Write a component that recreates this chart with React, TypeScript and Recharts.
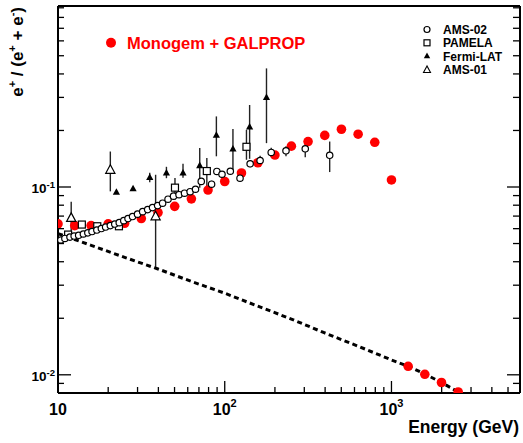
import { ErrorBar, Scatter, ScatterChart, XAxis, YAxis } from "recharts";

// Monogem + GALPROP prediction (red dots)
const monogemE = [10, 12.6, 15.8, 20, 25.1, 31.6, 39.8, 50.1, 63.1, 79.4, 100, 126, 158, 200, 251, 316, 398, 501, 631, 794, 1000, 1259, 1585, 1995, 2512];
const monogemV = [0.0636, 0.0623, 0.0623, 0.0636, 0.0641, 0.0679, 0.0731, 0.0789, 0.0865, 0.0963, 0.107, 0.1187, 0.1346, 0.148, 0.165, 0.1746, 0.1883, 0.203, 0.191, 0.173, 0.109, 0.0111, 0.01006, 0.0091, 0.0081];

// secondary background (dashed line)
const bgE = [10, 15.8, 25.1, 39.8, 63.1, 100, 158, 251, 398, 631, 1000, 1259, 1585, 1995, 2512];
const bgV = [0.0565, 0.0489, 0.0422, 0.0366, 0.0314, 0.0272, 0.0232, 0.0198, 0.0167, 0.0142, 0.012, 0.0111, 0.0101, 0.0091, 0.0081];

// AMS-02
const ams02E = [10.4, 11.0, 11.8, 12.5, 13.3, 14.2, 15.1, 16.0, 17.1, 18.2, 19.3, 20.6, 21.9, 23.3, 24.8, 26.3, 28.0, 30.0, 32.2, 34.5, 36.9, 39.6, 42.4, 45.7, 49.3, 53.2, 57.4, 62.0, 66.8, 72.3, 83.4, 89.7, 96.3, 108, 123.5, 142, 163, 190, 233, 304, 426];
const ams02V = [0.0522, 0.0532, 0.0541, 0.0548, 0.0553, 0.0562, 0.057, 0.0579, 0.059, 0.0601, 0.0612, 0.0623, 0.0635, 0.0646, 0.0662, 0.0679, 0.0696, 0.0717, 0.0739, 0.0758, 0.0777, 0.0796, 0.082, 0.0861, 0.0894, 0.091, 0.0927, 0.0944, 0.0973, 0.1071, 0.1035, 0.121, 0.1169, 0.1213, 0.1114, 0.1329, 0.1384, 0.1527, 0.1559, 0.1597, 0.1475];
const ams02Dn = [0.0006, 0.0006, 0.0006, 0.0006, 0.0006, 0.0007, 0.0007, 0.0007, 0.0008, 0.0008, 0.0008, 0.0008, 0.0009, 0.0009, 0.0009, 0.001, 0.001, 0.001, 0.0011, 0.0012, 0.0012, 0.0013, 0.0014, 0.0015, 0.0016, 0.0017, 0.0019, 0.002, 0.0022, 0.0024, 0.0043, 0.003, 0.003, 0.003, 0.0041, 0.0055, 0.0079, 0.0088, 0.0102, 0.0158, 0.0274];
const ams02Up = [0.0006, 0.0006, 0.0006, 0.0006, 0.0006, 0.0007, 0.0007, 0.0007, 0.0008, 0.0008, 0.0008, 0.0008, 0.0009, 0.0009, 0.0009, 0.001, 0.001, 0.001, 0.0011, 0.0012, 0.0012, 0.0013, 0.0014, 0.0015, 0.0016, 0.0017, 0.0019, 0.002, 0.0022, 0.0024, 0.0045, 0.003, 0.003, 0.003, 0.0041, 0.0059, 0.0082, 0.009, 0.0088, 0.0121, 0.0271];

// PAMELA
const pamelaE = [11.5, 13.9, 17.2, 23.2, 50.3, 78.1, 135];
const pamelaV = [0.0558, 0.0631, 0.0618, 0.0618, 0.0992, 0.1216, 0.1637];
const pamelaDn = [0.0015, 0.002, 0.002, 0.002, 0.0136, 0.0268, 0.0241];
const pamelaUp = [0.0015, 0.002, 0.002, 0.003, 0.0124, 0.0209, 0.0378];

// Fermi-LAT
const fermiE = [22.4, 28.2, 35.5, 44.7, 56.2, 70.8, 89.1, 112, 141, 178];
const fermiV = [0.0938, 0.0979, 0.1124, 0.1187, 0.1187, 0.13, 0.1888, 0.1595, 0.2089, 0.2997];
const fermiDn = [0.002, 0.0025, 0.0063, 0.0073, 0.0067, 0.0308, 0.0431, 0.0367, 0.0676, 0.1285];
const fermiUp = [0.002, 0.0025, 0.0067, 0.0094, 0.0142, 0.0311, 0.0488, 0.0444, 0.0645, 0.1284];

// AMS-01
const ams01E = [12.0, 20.6, 38.5];
const ams01V = [0.0685, 0.1235, 0.0698];
const ams01Dn = [0.0127, 0.0287, 0.0326];
const ams01Up = [0.015, 0.031, 0.0464];

const xTicks = [10, 20, 30, 40, 50, 60, 70, 80, 90, 100, 200, 300, 400, 500, 600, 700, 800, 900, 1000, 2000, 3000, 4000, 5000];
const yTicks = [0.008, 0.009, 0.01, 0.02, 0.03, 0.04, 0.05, 0.06, 0.07, 0.08, 0.09, 0.1, 0.2, 0.3, 0.4, 0.5, 0.6, 0.7, 0.8, 0.9];
const xMajor = [10, 100, 1000];
const yMajor = [0.01, 0.1];
const xLabels: Record<number, [string, string]> = { 10: ["10", ""], 100: ["10", "2"], 1000: ["10", "3"] };
const yLabels: Record<number, [string, string]> = { 0.01: ["10", "-2"], 0.1: ["10", "-1"] };

const FONT = '"Liberation Sans", Arial, Helvetica, sans-serif';

function rows(E: number[], V: number[], dn?: number[], up?: number[]) {
  return E.map((x, i) => ({ x, y: V[i], err: dn && up ? [dn[i], up[i]] : [0, 0] }));
}

// axes are 1px thick, so the axis line sits at the plot edge
const BottomTick = (p: any) => {
  const v = p.payload.value;
  const len = xMajor.includes(v) ? 12 : 6;
  const lab = xLabels[v];
  return (
    <g>
      <line x1={p.x} x2={p.x} y1={p.y} y2={p.y - len} stroke="#000" strokeWidth={1.3} />
      {lab && (
        <text x={p.x} y={p.y + 22} textAnchor="middle" fontFamily={FONT} fontWeight="bold" fontSize={16} fill="#000">
          {lab[0]}
          {lab[1] && <tspan dy={-8} fontSize={11}>{lab[1]}</tspan>}
        </text>
      )}
    </g>
  );
};

const TopTick = (p: any) => {
  const len = xMajor.includes(p.payload.value) ? 12 : 6;
  return <line x1={p.x} x2={p.x} y1={p.y} y2={p.y + len} stroke="#000" strokeWidth={1.3} />;
};

const LeftTick = (p: any) => {
  const v = p.payload.value;
  const len = yMajor.includes(v) ? 13 : 6;
  const lab = yLabels[v];
  return (
    <g>
      <line x1={p.x} x2={p.x + len} y1={p.y} y2={p.y} stroke="#000" strokeWidth={1.3} />
      {lab && (
        <text x={p.x - 3} y={p.y + 6.5} textAnchor="end" fontFamily={FONT} fontWeight="bold" fontSize={13.5} fill="#000">
          {lab[0]}
          <tspan dy={-5} fontSize={9.5}>{lab[1]}</tspan>
        </text>
      )}
    </g>
  );
};

const RightTick = (p: any) => {
  const len = yMajor.includes(p.payload.value) ? 13 : 7;
  return <line x1={p.x} x2={p.x - len} y1={p.y} y2={p.y} stroke="#000" strokeWidth={1.3} />;
};

const OpenCircle = (p: any) => <circle cx={p.cx} cy={p.cy} r={3.2} fill="#fff" stroke="#000" strokeWidth={1.2} />;
const OpenSquare = (p: any) => <rect x={p.cx - 3.5} y={p.cy - 3.5} width={7} height={7} fill="#fff" stroke="#000" strokeWidth={1.2} />;
const FilledTri = (p: any) => (
  <polygon points={`${p.cx},${p.cy - 4} ${p.cx - 3.6},${p.cy + 2.6} ${p.cx + 3.6},${p.cy + 2.6}`} fill="#000" />
);
const OpenTri = (p: any) => (
  <polygon points={`${p.cx},${p.cy - 5} ${p.cx - 4.6},${p.cy + 3.5} ${p.cx + 4.6},${p.cy + 3.5}`} fill="#fff" stroke="#000" strokeWidth={1.2} />
);
const RedDot = (p: any) => <circle cx={p.cx} cy={p.cy} r={4.8} fill="#ff0000" />;
const Nothing = () => <g />;

export default function App() {
  const axisLine = { stroke: "#000", strokeWidth: 2 };
  const sup = (s: string) => <tspan dy={-7} fontSize={11}>{s}</tspan>;
  return (
    <div style={{ position: "absolute", left: 0, top: 0, width: 523, height: 443, background: "#fff" }}>
      <ScatterChart width={523} height={443} margin={{ top: 5, right: 2, bottom: 49, left: 57 }}>
        <XAxis xAxisId="b" dataKey="x" type="number" scale="log" domain={[10, 5900]} allowDataOverflow
          ticks={xTicks} interval={0} height={1} tickSize={0} tickMargin={0} tickLine={false}
          axisLine={axisLine} tick={BottomTick} orientation="bottom" />
        <XAxis xAxisId="t" type="number" scale="log" domain={[10, 5900]} allowDataOverflow
          ticks={xTicks} interval={0} height={1} tickSize={0} tickMargin={0} tickLine={false}
          axisLine={axisLine} tick={TopTick} orientation="top" />
        <YAxis yAxisId="l" dataKey="y" type="number" scale="log" domain={[0.008, 0.92]} allowDataOverflow
          ticks={yTicks} interval={0} width={1} tickSize={0} tickMargin={0} tickLine={false}
          axisLine={axisLine} tick={LeftTick} orientation="left" />
        <YAxis yAxisId="r" type="number" scale="log" domain={[0.008, 0.92]} allowDataOverflow
          ticks={yTicks} interval={0} width={1} tickSize={0} tickMargin={0} tickLine={false}
          axisLine={axisLine} tick={RightTick} orientation="right" />

        <Scatter xAxisId="b" yAxisId="l" data={rows(bgE, bgV)} fill="#000" shape={Nothing}
          line={{ stroke: "#000", strokeWidth: 3, strokeDasharray: "5 3.5" }} isAnimationActive={false} />
        <Scatter xAxisId="b" yAxisId="l" data={rows(monogemE, monogemV)} shape={RedDot} isAnimationActive={false} />
        <Scatter xAxisId="b" yAxisId="l" data={rows(ams01E, ams01V, ams01Dn, ams01Up)} shape={OpenTri} isAnimationActive={false}>
          <ErrorBar dataKey="err" direction="y" width={0} stroke="#222" strokeWidth={1.4} />
        </Scatter>
        <Scatter xAxisId="b" yAxisId="l" data={rows(fermiE, fermiV, fermiDn, fermiUp)} shape={FilledTri} isAnimationActive={false}>
          <ErrorBar dataKey="err" direction="y" width={0} stroke="#222" strokeWidth={1.4} />
        </Scatter>
        <Scatter xAxisId="b" yAxisId="l" data={rows(pamelaE, pamelaV, pamelaDn, pamelaUp)} shape={OpenSquare} isAnimationActive={false}>
          <ErrorBar dataKey="err" direction="y" width={0} stroke="#222" strokeWidth={1.4} />
        </Scatter>
        <Scatter xAxisId="b" yAxisId="l" data={rows(ams02E, ams02V, ams02Dn, ams02Up)} shape={OpenCircle} isAnimationActive={false}>
          <ErrorBar dataKey="err" direction="y" width={0} stroke="#222" strokeWidth={1.4} />
        </Scatter>
      </ScatterChart>

      <svg width={523} height={443} style={{ position: "absolute", left: 0, top: 0, pointerEvents: "none" }}
        fontFamily={FONT} fontWeight="bold">
        {/* legend */}
        <circle cx={427} cy={29.5} r={3} fill="#fff" stroke="#000" strokeWidth={1.2} />
        <rect x={424} y={39.8} width={6} height={6} fill="#fff" stroke="#000" strokeWidth={1.2} />
        <polygon points="427,52.5 423.8,58.3 430.2,58.3" fill="#000" />
        <polygon points="427,66 423.5,72.5 430.5,72.5" fill="#fff" stroke="#000" strokeWidth={1.1} />
        <text x={443} y={34} fontSize={12}>AMS-02</text>
        <text x={443} y={47.3} fontSize={12}>PAMELA</text>
        <text x={443} y={60.6} fontSize={12}>Fermi-LAT</text>
        <text x={443} y={74} fontSize={12}>AMS-01</text>

        <circle cx={111} cy={42.7} r={5} fill="#ff0000" />
        <text x={127} y={49.3} fontSize={16.5} fill="#ff0000">Monogem + GALPROP</text>

        <text x={519} y={433} fontSize={17.5} textAnchor="end">Energy (GeV)</text>
        <text transform="translate(23,7) rotate(-90)" textAnchor="end" fontSize={17}>
          e{sup("+")}<tspan dy={7}> / (e</tspan>{sup("+")}<tspan dy={7}> + e</tspan>{sup("-")}<tspan dy={7}>)</tspan>
        </text>
      </svg>
    </div>
  );
}
